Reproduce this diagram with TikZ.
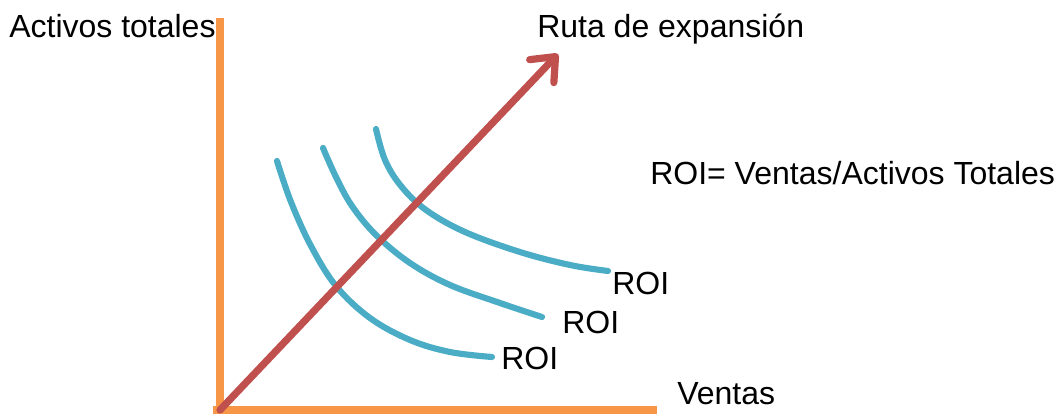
\documentclass[tikz,border=0pt]{standalone}
\usepackage{fontspec}
\setmainfont{Liberation Sans}
\usetikzlibrary{arrows.meta}
\definecolor{axisorange}{HTML}{F79646}
\definecolor{pathred}{HTML}{C0504D}
\definecolor{roiblue}{HTML}{4BACC6}
\tikzset{
  axisline/.style={draw=axisorange, line width=5.4pt},
  roicurve/.style={draw=roiblue, line width=4.6pt, line cap=round},
  pathline/.style={draw=pathred, line width=5.4pt, line cap=round,
    -{Straight Barb[length=15pt, width=25pt, round]}},
  lbl/.style={inner sep=0pt, anchor=base west, font=\fontsize{24}{28}\selectfont}
}
\begin{document}
\begin{tikzpicture}[x=0.75pt, y=-0.75pt]
\useasboundingbox (0,0) rectangle (1062,416);
% axes
\coordinate (ytop) at (220,18);
\coordinate (origin) at (220,410);
\coordinate (xend) at (657,410);
\draw[axisline] (ytop) -- (220,413);
\draw[axisline] (213,410) -- (xend);
% ROI curves
\draw[roicurve] plot[smooth, tension=0.6] coordinates {(277,161) (291,202) (311,246) (336,286) (370,318) (410,340) (450,352) (492,357)};
\draw[roicurve] plot[smooth, tension=0.6] coordinates {(323,148) (336,177) (352,206) (376,235) (410,263) (450,285) (500,303) (542,317)};
\draw[roicurve] plot[smooth, tension=0.6] coordinates {(376,129) (385,160) (401,186) (426,210) (465,232) (520,252) (570,265) (608,271)};
% expansion path
\coordinate (tip) at (558,54);
\draw[pathline] (origin) -- (tip);
% labels
\node[lbl] (ylab) at (9,38) {Activos totales};
\node[lbl] (plab) at (537,38) {Ruta de expansión};
\node[lbl] (xlab) at (677,404) {Ventas};
\node[lbl] (formula) at (650,185) {ROI= Ventas/Activos Totales};
\node[lbl] (roi3) at (612,295) {ROI};
\node[lbl] (roi2) at (562,333) {ROI};
\node[lbl] (roi1) at (501,369) {ROI};
\end{tikzpicture}
\end{document}
